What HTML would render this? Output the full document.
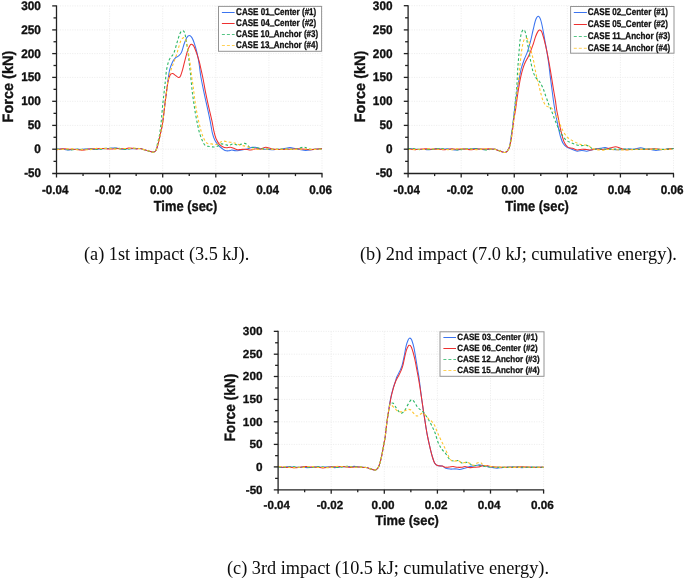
<!DOCTYPE html>
<html lang="en"><head><meta charset="utf-8"><title>Impact force time histories</title>
<style>
html,body{margin:0;padding:0;background:#fff;}
body{width:685px;height:579px;overflow:hidden;position:relative;font-family:"Liberation Serif",serif;}
svg{position:absolute;left:0;top:0;will-change:transform;filter:blur(0.35px);}
.cap{position:absolute;font-family:"Liberation Serif",serif;font-size:18.25px;line-height:20px;color:#0c0c0c;white-space:nowrap;will-change:transform;}
</style></head><body>
<svg width="685" height="579" viewBox="0 0 685 579">
<!-- (a) -->
<g stroke="#e8e8e8" stroke-width="0.8" stroke-dasharray="1.1 1.35" fill="none"><line x1="57.5" y1="5.90" x2="322.0" y2="5.90"/><line x1="57.5" y1="29.90" x2="322.0" y2="29.90"/><line x1="57.5" y1="53.60" x2="322.0" y2="53.60"/><line x1="57.5" y1="77.40" x2="322.0" y2="77.40"/><line x1="57.5" y1="101.30" x2="322.0" y2="101.30"/><line x1="57.5" y1="125.40" x2="322.0" y2="125.40"/><line x1="57.5" y1="149.20" x2="322.0" y2="149.20"/><line x1="109.60" y1="5.9" x2="109.60" y2="172.5"/><line x1="162.70" y1="5.9" x2="162.70" y2="172.5"/><line x1="215.80" y1="5.9" x2="215.80" y2="172.5"/><line x1="268.90" y1="5.9" x2="268.90" y2="172.5"/><line x1="322.00" y1="5.9" x2="322.00" y2="172.5"/></g>
<path d="M56.6,149.1C57.3,149.1 59.3,149.0 60.6,149.0C61.9,149.1 63.3,149.4 64.6,149.6C65.9,149.7 67.3,149.9 68.6,149.9C69.9,149.9 71.3,149.5 72.6,149.4C73.9,149.3 75.3,149.2 76.6,149.2C77.9,149.2 79.3,149.5 80.6,149.5C81.9,149.5 83.3,149.2 84.6,149.1C85.9,149.0 87.3,148.9 88.6,148.9C89.9,149.0 91.3,149.4 92.6,149.5C93.9,149.6 95.3,149.6 96.6,149.5C97.9,149.4 99.3,149.0 100.6,148.8C101.9,148.7 103.3,148.7 104.6,148.6C105.9,148.6 107.3,148.6 108.6,148.5C109.9,148.4 111.3,148.0 112.6,147.9C113.9,147.9 115.3,148.0 116.6,148.1C117.9,148.3 119.3,148.8 120.6,149.0C121.9,149.2 123.3,149.2 124.6,149.1C125.9,149.1 127.3,148.8 128.6,148.8C129.9,148.7 131.3,148.9 132.6,148.8C133.9,148.8 135.4,148.6 136.6,148.6C137.8,148.5 138.6,148.4 140.0,148.6C141.4,148.8 143.7,149.6 145.3,150.0C146.9,150.4 148.3,150.9 149.6,151.3C150.9,151.7 152.1,152.2 153.1,152.2C154.1,152.1 155.1,151.8 155.8,150.8C156.5,149.8 156.9,148.0 157.5,146.0C158.1,144.0 158.7,141.5 159.3,139.0C159.9,136.5 160.5,133.4 161.0,131.1C161.5,128.8 161.9,127.5 162.3,125.0C162.7,122.5 163.0,120.4 163.5,116.4C164.0,112.4 164.7,105.7 165.3,100.9C165.9,96.1 166.7,90.9 167.1,87.4C167.5,83.9 167.6,83.0 168.0,80.0C168.4,77.0 169.0,72.6 169.7,69.7C170.4,66.8 171.4,64.5 172.3,62.5C173.2,60.5 174.3,58.9 175.4,57.8C176.5,56.7 178.0,56.7 179.0,55.7C180.0,54.8 180.7,54.1 181.6,52.1C182.5,50.1 183.3,46.2 184.2,43.8C185.1,41.4 186.0,39.0 186.8,37.6C187.7,36.2 188.5,35.5 189.3,35.5C190.2,35.5 191.0,36.2 191.9,37.6C192.8,39.0 193.6,41.2 194.5,43.8C195.4,46.4 196.3,49.6 197.1,53.1C197.9,56.6 198.6,60.5 199.2,64.5C199.8,68.5 200.1,72.5 200.9,77.0C201.7,81.5 202.8,86.8 203.8,91.6C204.8,96.4 205.9,101.3 207.0,106.1C208.1,110.9 209.2,116.1 210.1,120.6C211.0,125.1 211.6,129.9 212.4,133.2C213.2,136.5 214.0,138.4 214.9,140.3C215.8,142.2 216.8,143.5 218.0,144.9C219.2,146.3 220.9,147.6 222.1,148.5C223.3,149.4 224.0,150.1 225.1,150.5C226.2,150.9 227.6,150.9 228.7,150.8C229.8,150.7 230.6,150.0 231.8,150.0C233.0,150.0 234.5,150.8 235.9,150.8C237.3,150.9 238.7,150.5 240.0,150.3C241.3,150.1 242.7,149.8 244.0,149.5C245.3,149.2 246.7,149.1 248.1,148.7C249.5,148.3 251.0,147.5 252.2,147.3C253.4,147.1 254.3,147.1 255.3,147.3C256.3,147.5 257.2,148.0 258.4,148.3C259.6,148.6 261.0,149.1 262.4,149.3C263.8,149.5 264.9,149.2 267.0,149.3C269.1,149.4 272.3,149.7 275.0,149.6C277.7,149.5 280.5,149.1 283.0,148.8C285.5,148.5 287.8,147.6 290.0,147.6C292.2,147.6 293.4,148.3 296.0,148.8C298.6,149.3 302.6,150.3 305.4,150.4C308.2,150.5 310.2,149.8 313.0,149.6C315.8,149.4 320.5,149.1 322.0,149.0" fill="none" stroke="#3b74f0" stroke-width="1.05" stroke-linejoin="round"/>
<path d="M56.6,149.7C57.3,149.6 59.3,149.2 60.6,149.0C61.9,148.9 63.3,148.7 64.6,148.7C65.9,148.7 67.3,149.1 68.6,149.2C69.9,149.3 71.3,149.3 72.6,149.3C73.9,149.3 75.3,149.3 76.6,149.4C77.9,149.5 79.3,150.0 80.6,150.1C81.9,150.2 83.3,150.1 84.6,150.0C85.9,149.8 87.3,149.3 88.6,149.1C89.9,148.9 91.3,148.8 92.6,148.8C93.9,148.8 95.3,148.9 96.6,148.8C97.9,148.8 99.3,148.5 100.6,148.4C101.9,148.4 103.3,148.4 104.6,148.5C105.9,148.6 107.3,148.9 108.6,149.0C109.9,149.1 111.3,149.0 112.6,148.9C113.9,148.8 115.3,148.5 116.6,148.5C117.9,148.5 119.3,148.6 120.6,148.7C121.9,148.7 123.3,148.8 124.6,148.7C125.9,148.6 127.3,148.2 128.6,148.1C129.9,148.1 131.3,148.2 132.6,148.3C133.9,148.5 135.4,149.0 136.6,149.0C137.8,149.0 138.6,148.4 140.0,148.6C141.4,148.8 143.7,149.6 145.3,150.0C146.9,150.4 148.3,150.9 149.6,151.3C150.9,151.7 152.1,152.2 153.1,152.2C154.1,152.1 155.1,151.8 155.8,150.8C156.5,149.8 156.9,148.0 157.5,146.0C158.1,144.0 158.7,141.5 159.3,139.0C159.9,136.5 160.5,133.4 161.0,131.1C161.5,128.8 161.9,127.5 162.3,125.0C162.7,122.5 163.0,120.4 163.5,116.4C164.0,112.4 164.7,105.7 165.3,100.9C165.9,96.1 166.6,90.9 167.1,87.4C167.6,83.9 167.9,82.1 168.4,80.0C168.9,77.9 169.5,76.0 170.2,74.9C170.9,73.8 171.7,73.4 172.6,73.5C173.5,73.6 174.4,74.7 175.4,75.4C176.4,76.1 177.7,77.4 178.5,77.5C179.3,77.6 179.8,77.2 180.5,75.9C181.2,74.6 181.8,72.5 182.6,69.7C183.4,66.9 184.3,62.6 185.2,59.3C186.1,56.0 187.0,52.3 187.8,50.0C188.6,47.7 189.3,46.4 189.9,45.4C190.5,44.4 190.9,44.1 191.6,44.3C192.3,44.5 193.2,44.9 194.0,46.4C194.8,47.9 195.7,50.6 196.6,53.1C197.5,55.6 198.4,58.5 199.2,61.4C200.0,64.3 200.6,67.6 201.3,70.7C202.0,73.8 202.6,76.5 203.3,80.0C204.0,83.5 204.5,87.2 205.4,91.6C206.3,95.9 207.4,101.3 208.5,106.1C209.6,110.9 211.0,116.4 211.9,120.6C212.8,124.8 213.2,128.1 213.9,131.1C214.6,134.1 215.1,136.2 215.9,138.3C216.8,140.4 217.9,142.5 219.0,143.9C220.1,145.3 221.4,146.1 222.6,146.7C223.8,147.3 224.9,147.6 226.2,147.7C227.5,147.8 229.0,147.2 230.3,147.3C231.6,147.4 232.6,147.9 233.8,148.3C235.0,148.7 236.2,149.5 237.4,149.7C238.6,149.9 239.7,149.6 241.0,149.5C242.3,149.4 243.7,149.1 245.1,149.2C246.5,149.3 247.8,149.9 249.2,150.0C250.5,150.1 252.0,149.7 253.2,149.5C254.4,149.3 255.1,148.8 256.3,148.7C257.5,148.6 258.8,149.2 260.4,149.0C262.0,148.8 264.0,147.3 265.9,147.3C267.8,147.3 269.6,148.6 272.0,149.0C274.4,149.4 277.0,149.5 280.0,149.5C283.0,149.5 286.7,149.3 290.0,149.2C293.3,149.1 296.7,148.7 300.0,148.8C303.3,148.9 306.3,149.6 310.0,149.6C313.7,149.6 320.0,148.8 322.0,148.6" fill="none" stroke="#ee3030" stroke-width="1.05" stroke-linejoin="round"/>
<path d="M56.6,149.1C57.3,149.2 59.3,149.4 60.6,149.5C61.9,149.5 63.3,149.3 64.6,149.3C65.9,149.4 67.3,149.6 68.6,149.7C69.9,149.7 71.3,149.9 72.6,149.8C73.9,149.7 75.3,149.3 76.6,149.2C77.9,149.1 79.3,149.0 80.6,149.1C81.9,149.1 83.3,149.3 84.6,149.4C85.9,149.4 87.3,149.2 88.6,149.2C89.9,149.1 91.3,149.0 92.6,149.1C93.9,149.1 95.3,149.4 96.6,149.5C97.9,149.5 99.3,149.4 100.6,149.2C101.9,149.1 103.3,148.6 104.6,148.4C105.9,148.2 107.3,148.2 108.6,148.2C109.9,148.2 111.3,148.3 112.6,148.3C113.9,148.3 115.3,148.1 116.6,148.2C117.9,148.2 119.3,148.4 120.6,148.6C121.9,148.8 123.3,149.3 124.6,149.4C125.9,149.4 127.3,149.2 128.6,149.1C129.9,148.9 131.3,148.5 132.6,148.4C133.9,148.3 135.4,148.5 136.6,148.5C137.8,148.6 138.6,148.4 140.0,148.6C141.4,148.8 143.7,149.6 145.3,150.0C146.9,150.4 148.3,150.9 149.6,151.3C150.9,151.7 152.1,152.2 153.1,152.2C154.1,152.1 155.2,151.8 155.8,150.8C156.4,149.8 156.4,148.0 156.9,146.0C157.4,144.0 158.1,141.2 158.6,139.0C159.1,136.8 159.4,135.9 159.8,133.0C160.2,130.1 160.7,126.6 161.2,121.6C161.7,116.6 162.3,108.5 162.9,103.0C163.5,97.5 164.1,92.3 164.5,88.5C164.9,84.7 165.2,83.1 165.5,80.0C165.8,76.9 166.0,73.0 166.6,69.7C167.2,66.4 168.0,62.7 169.2,59.9C170.4,57.1 172.5,56.0 173.8,53.1C175.1,50.2 176.1,45.6 177.1,42.3C178.1,39.0 179.1,35.4 180.0,33.5C180.9,31.6 181.8,30.8 182.6,30.7C183.4,30.6 184.1,31.2 184.7,32.9C185.3,34.6 185.7,37.7 186.2,40.7C186.7,43.7 187.3,47.7 187.8,51.1C188.3,54.5 188.7,57.8 189.1,61.4C189.5,65.0 189.9,68.5 190.4,73.0C190.9,77.5 191.4,83.8 191.9,88.5C192.4,93.2 192.9,96.8 193.5,100.9C194.1,105.0 194.7,109.3 195.4,113.3C196.1,117.3 196.9,121.4 197.6,124.7C198.3,128.0 198.8,130.6 199.6,133.2C200.4,135.8 201.3,138.3 202.2,140.3C203.1,142.3 204.0,144.4 205.2,145.4C206.4,146.4 207.8,146.2 209.3,146.5C210.8,146.8 213.0,147.1 214.4,147.0C215.8,146.9 216.9,146.4 218.0,145.9C219.1,145.4 220.0,144.2 221.1,143.9C222.2,143.7 223.3,144.2 224.6,144.4C225.9,144.7 227.3,145.5 228.7,145.4C230.1,145.3 231.4,144.0 232.8,143.9C234.2,143.8 235.6,144.8 236.9,144.9C238.2,145.0 239.2,144.7 240.5,144.4C241.8,144.2 243.4,143.3 244.6,143.4C245.8,143.5 246.8,144.2 247.6,144.9C248.4,145.6 248.8,147.1 249.7,147.5C250.6,147.9 251.8,147.4 253.2,147.5C254.6,147.6 256.4,147.8 258.4,148.0C260.4,148.2 262.2,148.8 265.0,149.0C267.8,149.2 271.7,149.2 275.0,149.2C278.3,149.2 281.7,149.0 285.0,149.0C288.3,149.0 291.9,149.6 295.0,149.3C298.1,149.0 301.2,147.2 303.7,147.2C306.2,147.2 306.9,148.9 310.0,149.2C313.1,149.5 320.0,149.0 322.0,149.0" fill="none" stroke="#2cb766" stroke-width="1.1" stroke-dasharray="2.6 2.2" stroke-linejoin="round"/>
<path d="M56.6,149.3C57.3,149.3 59.3,149.5 60.6,149.5C61.9,149.5 63.3,149.5 64.6,149.4C65.9,149.3 67.3,148.8 68.6,148.7C69.9,148.7 71.3,148.8 72.6,148.9C73.9,149.1 75.3,149.5 76.6,149.6C77.9,149.7 79.3,149.7 80.6,149.7C81.9,149.7 83.3,149.6 84.6,149.6C85.9,149.6 87.3,149.9 88.6,149.8C89.9,149.7 91.3,149.5 92.6,149.3C93.9,149.0 95.3,148.6 96.6,148.4C97.9,148.3 99.3,148.4 100.6,148.5C101.9,148.5 103.3,148.6 104.6,148.6C105.9,148.6 107.3,148.3 108.6,148.3C109.9,148.3 111.3,148.5 112.6,148.6C113.9,148.8 115.3,149.2 116.6,149.2C117.9,149.2 119.3,148.9 120.6,148.8C121.9,148.7 123.3,148.5 124.6,148.5C125.9,148.4 127.3,148.6 128.6,148.5C129.9,148.5 131.3,148.4 132.6,148.3C133.9,148.2 135.4,148.1 136.6,148.1C137.8,148.2 138.6,148.3 140.0,148.6C141.4,148.9 143.7,149.6 145.3,150.0C146.9,150.4 148.3,150.9 149.6,151.3C150.9,151.7 152.1,152.2 153.1,152.2C154.1,152.1 155.1,151.8 155.8,150.8C156.5,149.8 156.9,148.0 157.5,146.0C158.1,144.0 158.7,141.5 159.3,139.0C159.9,136.5 160.5,133.4 161.0,131.1C161.5,128.8 161.9,127.5 162.3,125.0C162.7,122.5 163.0,120.4 163.5,116.4C164.0,112.4 164.7,105.7 165.3,100.9C165.9,96.1 166.6,90.9 167.1,87.4C167.6,83.9 167.5,82.8 168.1,80.0C168.7,77.2 169.8,73.5 170.7,70.7C171.6,68.0 172.4,66.1 173.3,63.5C174.2,60.9 175.5,57.8 176.4,55.2C177.3,52.6 177.7,50.5 178.5,48.0C179.3,45.5 180.2,41.9 181.1,40.2C182.0,38.5 182.9,37.7 183.7,37.6C184.5,37.5 185.1,38.2 185.7,39.7C186.3,41.2 187.0,44.3 187.5,46.9C188.0,49.5 188.3,52.1 188.8,55.2C189.3,58.3 189.9,62.0 190.4,65.6C190.9,69.2 191.2,73.4 191.7,77.0C192.2,80.6 192.8,83.8 193.3,87.4C193.8,91.0 194.1,94.8 194.7,98.8C195.2,102.8 195.9,107.2 196.6,111.2C197.3,115.2 198.2,119.3 198.9,122.6C199.7,125.9 200.3,128.5 201.1,131.1C201.9,133.7 202.7,136.2 203.7,138.3C204.7,140.4 206.0,142.5 207.3,143.4C208.6,144.3 209.8,143.7 211.3,143.9C212.8,144.1 215.1,144.7 216.5,144.4C217.9,144.2 218.8,143.0 220.0,142.4C221.2,141.8 222.3,141.2 223.6,141.1C224.9,141.0 226.2,141.7 227.7,141.9C229.2,142.2 231.4,142.3 232.8,142.6C234.2,142.8 234.7,143.0 235.9,143.4C237.1,143.8 238.7,144.8 240.0,145.2C241.3,145.6 242.7,145.6 244.0,145.9C245.3,146.2 246.7,146.5 248.1,147.0C249.5,147.5 250.8,148.6 252.2,149.0C253.6,149.4 254.8,149.2 256.3,149.3C257.8,149.4 259.9,149.6 261.4,149.5C262.8,149.4 262.7,149.0 265.0,149.0C267.3,149.0 271.7,149.4 275.0,149.4C278.3,149.4 281.7,149.1 285.0,149.1C288.3,149.1 291.7,149.4 295.0,149.4C298.3,149.4 301.7,149.0 305.0,149.0C308.3,149.0 312.2,149.5 315.0,149.5C317.8,149.5 320.8,149.2 322.0,149.2" fill="none" stroke="#ffc52e" stroke-width="1.1" stroke-dasharray="2.6 2.2" stroke-linejoin="round"/>
<g stroke="#222" stroke-width="1.3" fill="none"><line x1="56.50" y1="5.40" x2="56.50" y2="174.00"/><line x1="52.20" y1="173.50" x2="322.50" y2="173.50"/><line x1="52.20" y1="5.90" x2="56.50" y2="5.90"/><line x1="53.50" y1="17.90" x2="56.50" y2="17.90"/><line x1="52.20" y1="29.90" x2="56.50" y2="29.90"/><line x1="53.50" y1="41.75" x2="56.50" y2="41.75"/><line x1="52.20" y1="53.60" x2="56.50" y2="53.60"/><line x1="53.50" y1="65.50" x2="56.50" y2="65.50"/><line x1="52.20" y1="77.40" x2="56.50" y2="77.40"/><line x1="53.50" y1="89.35" x2="56.50" y2="89.35"/><line x1="52.20" y1="101.30" x2="56.50" y2="101.30"/><line x1="53.50" y1="113.35" x2="56.50" y2="113.35"/><line x1="52.20" y1="125.40" x2="56.50" y2="125.40"/><line x1="53.50" y1="137.30" x2="56.50" y2="137.30"/><line x1="52.20" y1="149.20" x2="56.50" y2="149.20"/><line x1="53.50" y1="161.35" x2="56.50" y2="161.35"/><line x1="56.50" y1="173.50" x2="56.50" y2="177.50"/><line x1="83.05" y1="173.50" x2="83.05" y2="176.10"/><line x1="109.60" y1="173.50" x2="109.60" y2="177.50"/><line x1="136.15" y1="173.50" x2="136.15" y2="176.10"/><line x1="162.70" y1="173.50" x2="162.70" y2="177.50"/><line x1="189.25" y1="173.50" x2="189.25" y2="176.10"/><line x1="215.80" y1="173.50" x2="215.80" y2="177.50"/><line x1="242.35" y1="173.50" x2="242.35" y2="176.10"/><line x1="268.90" y1="173.50" x2="268.90" y2="177.50"/><line x1="295.45" y1="173.50" x2="295.45" y2="176.10"/><line x1="322.00" y1="173.50" x2="322.00" y2="177.50"/></g>
<g font-family="Liberation Sans, sans-serif" font-weight="700" fill="#111" stroke="#111" stroke-width="0.35" stroke-linejoin="round" text-rendering="geometricPrecision"><text transform="translate(40.90,9.80) scale(1,0.998)" text-anchor="end" font-size="12.4" textLength="19.68" lengthAdjust="spacingAndGlyphs">300</text><text transform="translate(40.90,33.80) scale(1,0.998)" text-anchor="end" font-size="12.4" textLength="19.68" lengthAdjust="spacingAndGlyphs">250</text><text transform="translate(40.90,57.50) scale(1,0.998)" text-anchor="end" font-size="12.4" textLength="19.68" lengthAdjust="spacingAndGlyphs">200</text><text transform="translate(40.90,81.30) scale(1,0.998)" text-anchor="end" font-size="12.4" textLength="19.68" lengthAdjust="spacingAndGlyphs">150</text><text transform="translate(40.90,105.20) scale(1,0.998)" text-anchor="end" font-size="12.4" textLength="19.68" lengthAdjust="spacingAndGlyphs">100</text><text transform="translate(40.90,129.30) scale(1,0.998)" text-anchor="end" font-size="12.4" textLength="13.12" lengthAdjust="spacingAndGlyphs">50</text><text transform="translate(40.90,153.10) scale(1,0.998)" text-anchor="end" font-size="12.4" textLength="6.56" lengthAdjust="spacingAndGlyphs">0</text><text transform="translate(40.90,177.40) scale(1,0.998)" text-anchor="end" font-size="12.4" textLength="16.72" lengthAdjust="spacingAndGlyphs">-50</text><text transform="translate(55.20,193.90) scale(1,0.998)" text-anchor="middle" font-size="12.4" textLength="26.38" lengthAdjust="spacingAndGlyphs">-0.04</text><text transform="translate(108.30,193.90) scale(1,0.998)" text-anchor="middle" font-size="12.4" textLength="26.38" lengthAdjust="spacingAndGlyphs">-0.02</text><text transform="translate(161.40,193.90) scale(1,0.998)" text-anchor="middle" font-size="12.4" textLength="22.78" lengthAdjust="spacingAndGlyphs">0.00</text><text transform="translate(214.50,193.90) scale(1,0.998)" text-anchor="middle" font-size="12.4" textLength="22.78" lengthAdjust="spacingAndGlyphs">0.02</text><text transform="translate(267.60,193.90) scale(1,0.998)" text-anchor="middle" font-size="12.4" textLength="22.78" lengthAdjust="spacingAndGlyphs">0.04</text><text transform="translate(320.70,193.90) scale(1,0.998)" text-anchor="middle" font-size="12.4" textLength="22.78" lengthAdjust="spacingAndGlyphs">0.06</text><text transform="translate(185.50,211.30) scale(1,0.998)" text-anchor="middle" font-size="14.5" textLength="63.60" lengthAdjust="spacingAndGlyphs">Time (sec)</text><text transform="translate(13.20,86.60) rotate(-90) scale(0.998,1)" text-anchor="middle" font-size="15.0" textLength="71.80" lengthAdjust="spacingAndGlyphs">Force (kN)</text></g>
<rect x="218.50" y="6.40" width="103.10" height="44.90" fill="#fff" fill-opacity="0.996" stroke="#949494" stroke-width="1"/>
<line x1="221.90" y1="12.50" x2="234.60" y2="12.50" stroke="#3b74f0" stroke-width="1.0"/>
<line x1="221.90" y1="23.50" x2="234.60" y2="23.50" stroke="#ee3030" stroke-width="1.0"/>
<line x1="221.90" y1="34.50" x2="234.60" y2="34.50" stroke="#2cb766" stroke-width="1.0" stroke-dasharray="3.0 2.0" stroke-opacity="0.8"/>
<line x1="221.90" y1="45.50" x2="234.60" y2="45.50" stroke="#ffc52e" stroke-width="1.0" stroke-dasharray="3.0 2.0" stroke-opacity="0.8"/>
<g font-family="Liberation Sans, sans-serif" font-weight="700" fill="#111" stroke="#111" stroke-width="0.3" stroke-linejoin="round" text-rendering="geometricPrecision"><text transform="translate(236.10,15.10) scale(1,0.998)" text-anchor="start" font-size="9.7" textLength="80.20" lengthAdjust="spacingAndGlyphs">CASE 01<tspan dy="-1.3" stroke-width="0.6">_</tspan><tspan dy="1.3">Center (#1)</tspan></text><text transform="translate(236.10,26.00) scale(1,0.998)" text-anchor="start" font-size="9.7" textLength="80.20" lengthAdjust="spacingAndGlyphs">CASE 04<tspan dy="-1.3" stroke-width="0.6">_</tspan><tspan dy="1.3">Center (#2)</tspan></text><text transform="translate(236.10,37.10) scale(1,0.998)" text-anchor="start" font-size="9.7" textLength="82.00" lengthAdjust="spacingAndGlyphs">CASE 10<tspan dy="-1.3" stroke-width="0.6">_</tspan><tspan dy="1.3">Anchor (#3)</tspan></text><text transform="translate(236.10,48.10) scale(1,0.998)" text-anchor="start" font-size="9.7" textLength="82.00" lengthAdjust="spacingAndGlyphs">CASE 13<tspan dy="-1.3" stroke-width="0.6">_</tspan><tspan dy="1.3">Anchor (#4)</tspan></text></g>
<!-- (b) -->
<g stroke="#e8e8e8" stroke-width="0.8" stroke-dasharray="1.1 1.35" fill="none"><line x1="409.1" y1="5.70" x2="673.5" y2="5.70"/><line x1="409.1" y1="29.90" x2="673.5" y2="29.90"/><line x1="409.1" y1="53.60" x2="673.5" y2="53.60"/><line x1="409.1" y1="77.40" x2="673.5" y2="77.40"/><line x1="409.1" y1="101.30" x2="673.5" y2="101.30"/><line x1="409.1" y1="125.40" x2="673.5" y2="125.40"/><line x1="409.1" y1="149.20" x2="673.5" y2="149.20"/><line x1="461.18" y1="5.7" x2="461.18" y2="172.5"/><line x1="514.26" y1="5.7" x2="514.26" y2="172.5"/><line x1="567.34" y1="5.7" x2="567.34" y2="172.5"/><line x1="620.42" y1="5.7" x2="620.42" y2="172.5"/><line x1="673.50" y1="5.7" x2="673.50" y2="172.5"/></g>
<path d="M408.0,148.5C408.7,148.5 410.7,148.5 412.0,148.7C413.3,148.8 414.7,149.1 416.0,149.2C417.3,149.3 418.7,149.1 420.0,149.2C421.3,149.2 422.7,149.3 424.0,149.4C425.3,149.5 426.7,149.9 428.0,149.8C429.3,149.8 430.7,149.5 432.0,149.3C433.3,149.1 434.7,148.7 436.0,148.6C437.3,148.5 438.7,148.7 440.0,148.8C441.3,148.8 442.7,149.0 444.0,149.0C445.3,149.0 446.7,148.8 448.0,148.9C449.3,149.0 450.7,149.3 452.0,149.5C453.3,149.7 454.7,150.0 456.0,150.0C457.3,150.0 458.7,149.6 460.0,149.4C461.3,149.2 462.7,149.0 464.0,148.9C465.3,148.9 466.7,149.0 468.0,149.0C469.3,149.0 470.7,148.8 472.0,148.7C473.3,148.6 474.7,148.5 476.0,148.6C477.3,148.7 478.7,149.2 480.0,149.3C481.3,149.5 482.7,149.7 484.0,149.7C485.3,149.7 486.7,149.4 488.0,149.4C489.3,149.3 490.8,149.3 492.0,149.3C493.2,149.3 493.6,149.0 495.0,149.3C496.4,149.6 498.5,150.6 500.2,151.1C501.9,151.6 503.9,152.8 505.3,152.4C506.8,152.0 508.0,150.4 508.9,148.5C509.8,146.6 510.0,144.1 510.5,141.2C511.0,138.3 511.5,134.3 512.0,130.9C512.5,127.5 512.9,124.0 513.3,120.5C513.7,117.0 514.0,113.6 514.5,110.0C515.0,106.4 515.5,102.5 516.0,98.7C516.6,94.9 517.1,90.6 517.6,87.3C518.1,84.0 518.6,82.1 519.2,79.0C519.8,75.9 520.4,71.9 521.2,68.6C522.1,65.3 523.3,62.1 524.3,59.3C525.3,56.5 526.4,54.8 527.4,51.8C528.4,48.8 529.5,45.0 530.5,41.4C531.5,37.8 532.2,33.6 533.1,30.0C534.0,26.4 534.8,22.0 535.7,19.7C536.6,17.4 537.5,16.3 538.3,16.3C539.1,16.3 539.8,17.4 540.6,19.7C541.4,22.0 542.3,26.4 543.0,30.0C543.7,33.6 544.4,38.1 545.0,41.4C545.6,44.7 546.0,46.3 546.6,50.0C547.2,53.7 548.1,59.2 548.7,63.5C549.3,67.8 549.7,71.8 550.2,75.9C550.7,80.0 551.3,84.3 551.8,88.3C552.3,92.3 552.8,96.1 553.3,99.7C553.8,103.3 554.4,107.1 554.9,110.0C555.4,112.9 555.7,114.4 556.2,117.0C556.7,119.6 557.2,122.3 557.9,125.5C558.6,128.7 559.4,133.0 560.3,136.0C561.2,139.0 562.1,141.8 563.2,143.6C564.3,145.4 565.2,146.1 566.7,147.1C568.2,148.1 570.8,148.8 572.5,149.5C574.2,150.2 575.6,151.0 577.2,151.2C578.8,151.3 580.4,150.4 581.9,150.4C583.4,150.4 585.0,151.3 586.5,151.2C588.0,151.1 589.6,150.4 591.2,150.0C592.8,149.6 594.4,149.2 595.9,148.9C597.4,148.6 599.0,148.5 600.5,148.3C602.0,148.1 603.6,147.4 605.2,147.5C606.8,147.6 608.1,148.5 609.9,148.9C611.6,149.3 613.8,149.7 615.7,149.8C617.7,149.9 619.5,149.8 621.6,149.6C623.8,149.4 626.5,148.9 628.6,148.9C630.7,148.9 632.0,149.5 634.0,149.3C636.0,149.1 638.5,147.8 640.5,147.7C642.5,147.6 644.2,148.7 646.0,149.0C647.8,149.3 649.3,149.4 651.0,149.6C652.7,149.8 654.2,150.4 656.0,150.4C657.8,150.4 660.0,149.8 662.0,149.6C664.0,149.4 666.1,149.2 668.0,149.0C669.9,148.8 672.6,148.5 673.5,148.4" fill="none" stroke="#3b74f0" stroke-width="1.05" stroke-linejoin="round"/>
<path d="M408.0,149.2C408.7,149.2 410.7,149.2 412.0,149.2C413.3,149.3 414.7,149.6 416.0,149.6C417.3,149.5 418.7,149.3 420.0,149.2C421.3,149.0 422.7,148.7 424.0,148.7C425.3,148.6 426.7,148.9 428.0,149.0C429.3,149.1 430.7,149.3 432.0,149.3C433.3,149.3 434.7,149.1 436.0,149.1C437.3,149.1 438.7,149.2 440.0,149.3C441.3,149.4 442.7,149.7 444.0,149.7C445.3,149.7 446.7,149.3 448.0,149.2C449.3,149.0 450.7,148.8 452.0,148.8C453.3,148.8 454.7,149.2 456.0,149.2C457.3,149.3 458.7,149.2 460.0,149.1C461.3,149.1 462.7,148.9 464.0,148.9C465.3,149.0 466.7,149.3 468.0,149.4C469.3,149.6 470.7,149.7 472.0,149.6C473.3,149.6 474.7,149.2 476.0,149.0C477.3,148.9 478.7,148.9 480.0,148.9C481.3,148.9 482.7,149.1 484.0,149.1C485.3,149.1 486.7,148.9 488.0,148.8C489.3,148.8 490.8,148.9 492.0,148.9C493.2,149.0 493.6,148.9 495.0,149.3C496.4,149.7 498.5,150.6 500.2,151.1C501.9,151.6 503.9,152.8 505.3,152.4C506.8,152.0 508.0,150.4 508.9,148.5C509.8,146.6 510.3,144.1 510.9,141.2C511.5,138.3 511.9,134.3 512.4,130.9C512.9,127.5 513.2,124.0 513.7,120.5C514.2,117.0 515.0,113.1 515.5,110.0C516.0,106.9 516.2,104.5 516.6,101.8C517.0,99.0 517.3,96.8 517.8,93.5C518.3,90.2 519.1,85.5 519.7,82.1C520.4,78.6 520.9,75.7 521.7,72.8C522.5,69.9 523.2,67.1 524.3,64.5C525.3,61.9 527.0,59.2 528.0,57.2C529.0,55.2 529.1,54.9 530.0,52.8C530.9,50.7 532.1,47.3 533.1,44.5C534.1,41.7 534.8,38.5 535.7,36.2C536.6,33.9 537.6,31.9 538.3,30.9C539.0,29.9 539.3,29.9 539.9,30.0C540.5,30.1 541.0,30.4 541.6,31.6C542.2,32.8 542.8,35.0 543.5,37.3C544.2,39.6 545.0,42.9 545.6,45.6C546.2,48.4 546.8,50.8 547.4,53.8C548.0,56.8 548.6,59.8 549.2,63.5C549.9,67.2 550.6,71.8 551.3,75.9C552.0,80.0 552.6,84.2 553.3,88.3C554.0,92.4 554.8,97.1 555.4,100.7C556.0,104.3 556.2,107.2 556.7,110.0C557.2,112.8 557.6,114.4 558.2,117.4C558.8,120.4 559.4,124.3 560.2,127.8C561.0,131.2 562.1,135.6 562.8,138.1C563.5,140.6 563.8,141.5 564.6,143.0C565.4,144.5 566.5,146.2 567.8,147.1C569.1,148.0 570.9,147.8 572.5,148.3C574.1,148.8 575.6,149.8 577.2,150.0C578.8,150.2 580.4,149.3 581.9,149.2C583.4,149.1 585.0,149.4 586.5,149.5C588.0,149.6 589.6,150.1 591.2,150.0C592.8,149.9 594.1,149.2 595.9,149.1C597.6,149.0 600.0,149.5 601.7,149.5C603.5,149.5 604.8,149.4 606.4,149.1C608.0,148.8 609.5,148.1 611.1,147.7C612.7,147.3 614.2,146.8 615.7,146.8C617.2,146.8 618.2,147.4 619.8,147.9C621.4,148.4 622.6,149.5 625.1,149.7C627.6,149.9 631.7,149.2 635.0,149.2C638.3,149.1 641.7,149.5 645.0,149.4C648.3,149.3 651.7,148.8 655.0,148.8C658.3,148.8 661.9,149.6 665.0,149.5C668.1,149.4 672.1,148.6 673.5,148.4" fill="none" stroke="#ee3030" stroke-width="1.05" stroke-linejoin="round"/>
<path d="M408.0,148.9C408.7,148.8 410.7,148.4 412.0,148.4C413.3,148.4 414.7,148.7 416.0,148.9C417.3,149.1 418.7,149.5 420.0,149.6C421.3,149.7 422.7,149.5 424.0,149.5C425.3,149.5 426.7,149.4 428.0,149.4C429.3,149.4 430.7,149.6 432.0,149.5C433.3,149.5 434.7,149.1 436.0,148.9C437.3,148.7 438.7,148.4 440.0,148.4C441.3,148.4 442.7,148.8 444.0,148.9C445.3,149.1 446.7,149.3 448.0,149.3C449.3,149.4 450.7,149.3 452.0,149.3C453.3,149.4 454.7,149.6 456.0,149.7C457.3,149.8 458.7,149.9 460.0,149.8C461.3,149.7 462.7,149.2 464.0,149.0C465.3,148.8 466.7,148.6 468.0,148.6C469.3,148.5 470.7,148.8 472.0,148.9C473.3,149.0 474.7,148.9 476.0,148.9C477.3,148.9 478.7,148.8 480.0,149.0C481.3,149.1 482.7,149.5 484.0,149.6C485.3,149.8 486.7,149.9 488.0,149.8C489.3,149.7 490.8,149.2 492.0,149.2C493.2,149.1 493.6,149.0 495.0,149.3C496.4,149.6 498.5,150.6 500.2,151.1C501.9,151.6 503.9,152.8 505.3,152.4C506.8,152.0 508.0,150.4 508.9,148.5C509.8,146.6 510.1,144.1 510.6,141.2C511.1,138.3 511.6,134.3 512.1,130.9C512.6,127.5 513.0,124.0 513.4,120.5C513.8,117.0 514.3,113.1 514.6,110.0C514.9,106.9 515.0,104.9 515.3,101.8C515.6,98.7 516.1,94.9 516.4,91.4C516.7,88.0 516.9,84.5 517.1,81.1C517.3,77.6 517.4,74.2 517.6,70.7C517.8,67.2 518.1,63.9 518.4,60.4C518.7,56.9 518.9,53.2 519.2,49.7C519.5,46.2 519.8,42.2 520.2,39.3C520.6,36.4 521.1,33.7 521.7,32.1C522.3,30.5 523.3,29.4 524.0,29.8C524.7,30.2 525.4,32.3 525.9,34.2C526.4,36.1 526.7,39.0 527.1,41.4C527.5,43.8 528.1,46.6 528.5,48.7C528.9,50.8 529.1,51.6 529.5,54.1C529.9,56.6 530.5,60.6 531.1,63.5C531.7,66.4 532.3,69.4 533.1,71.7C533.9,74.0 534.6,75.7 535.7,77.4C536.8,79.1 538.7,80.3 539.9,82.1C541.1,83.9 542.0,86.0 543.0,88.3C544.0,90.5 544.7,93.2 545.6,95.6C546.5,98.0 547.5,100.9 548.2,102.8C548.9,104.7 549.2,105.3 549.9,107.1C550.6,108.8 551.6,111.1 552.5,113.3C553.4,115.5 554.1,118.1 555.1,120.5C556.1,122.9 557.1,125.4 558.2,127.8C559.4,130.2 560.7,132.8 562.0,134.9C563.3,137.0 564.7,138.8 566.1,140.1C567.5,141.3 568.7,141.7 570.2,142.4C571.7,143.1 573.2,143.7 574.9,144.2C576.5,144.7 578.2,145.4 580.1,145.6C582.0,145.8 584.9,145.2 586.5,145.4C588.1,145.7 588.8,146.5 590.0,147.1C591.2,147.7 591.9,148.8 593.5,149.1C595.1,149.4 597.2,148.9 599.4,148.9C601.5,148.9 603.0,149.2 606.4,149.2C609.8,149.2 615.2,149.0 620.0,149.0C624.8,149.0 630.0,149.3 635.0,149.3C640.0,149.3 645.5,149.0 650.0,149.0C654.5,149.0 658.1,149.5 662.0,149.4C665.9,149.3 671.6,148.7 673.5,148.6" fill="none" stroke="#2cb766" stroke-width="1.1" stroke-dasharray="2.6 2.2" stroke-linejoin="round"/>
<path d="M408.0,149.1C408.7,149.2 410.7,149.6 412.0,149.6C413.3,149.6 414.7,149.4 416.0,149.3C417.3,149.3 418.7,149.3 420.0,149.3C421.3,149.3 422.7,149.5 424.0,149.4C425.3,149.4 426.7,149.0 428.0,148.8C429.3,148.7 430.7,148.5 432.0,148.6C433.3,148.6 434.7,149.0 436.0,149.2C437.3,149.3 438.7,149.3 440.0,149.3C441.3,149.3 442.7,149.2 444.0,149.2C445.3,149.3 446.7,149.5 448.0,149.6C449.3,149.6 450.7,149.7 452.0,149.6C453.3,149.5 454.7,149.1 456.0,148.9C457.3,148.8 458.7,148.7 460.0,148.8C461.3,148.8 462.7,149.1 464.0,149.2C465.3,149.2 466.7,149.1 468.0,149.1C469.3,149.1 470.7,149.0 472.0,149.1C473.3,149.2 474.7,149.6 476.0,149.6C477.3,149.7 478.7,149.6 480.0,149.4C481.3,149.3 482.7,148.9 484.0,148.8C485.3,148.7 486.7,148.8 488.0,148.9C489.3,149.0 490.8,149.1 492.0,149.2C493.2,149.2 493.6,149.0 495.0,149.3C496.4,149.6 498.5,150.6 500.2,151.1C501.9,151.6 503.9,152.8 505.3,152.4C506.8,152.0 508.0,150.4 508.9,148.5C509.8,146.6 510.3,144.1 510.9,141.2C511.5,138.3 511.9,134.3 512.4,130.9C512.9,127.5 513.3,124.0 513.7,120.5C514.1,117.0 514.6,113.1 515.0,110.0C515.4,106.9 515.7,104.9 516.0,101.8C516.4,98.7 516.7,94.9 517.1,91.4C517.5,88.0 518.0,84.5 518.4,81.1C518.8,77.6 519.1,74.2 519.5,70.7C519.9,67.2 520.2,63.2 520.5,60.4C520.8,57.6 520.9,56.1 521.2,53.8C521.5,51.5 521.9,48.8 522.3,46.6C522.7,44.4 523.3,41.8 523.8,40.4C524.3,39.0 524.7,38.5 525.4,38.3C526.1,38.1 527.3,38.4 528.0,39.3C528.7,40.2 529.0,41.8 529.5,43.5C530.0,45.2 530.5,47.8 530.9,49.7C531.3,51.6 531.6,53.0 532.1,54.9C532.6,56.8 533.2,58.9 533.7,61.4C534.2,63.9 534.7,67.0 535.2,69.7C535.7,72.4 536.2,74.8 536.8,77.4C537.4,80.0 538.1,82.5 538.8,85.2C539.5,87.9 540.1,90.7 540.9,93.5C541.7,96.3 542.5,99.7 543.5,101.8C544.5,103.9 545.4,105.2 546.6,106.2C547.8,107.2 549.7,106.8 550.9,107.6C552.1,108.4 553.0,109.6 554.0,111.2C555.0,112.8 556.1,115.2 557.1,117.4C558.1,119.7 559.4,122.8 560.2,124.7C561.0,126.6 560.9,127.0 562.0,129.0C563.1,131.0 565.0,134.7 566.7,136.6C568.5,138.5 570.5,139.5 572.5,140.7C574.5,141.9 576.6,142.9 578.4,143.6C580.1,144.3 581.5,144.8 583.0,145.1C584.5,145.3 586.3,144.7 587.7,145.1C589.1,145.5 590.0,147.0 591.2,147.7C592.4,148.4 592.8,148.8 594.7,149.2C596.7,149.6 600.8,150.2 602.9,150.3C605.0,150.4 603.9,149.6 607.6,149.5C611.3,149.4 620.5,150.0 625.1,150.0C629.7,150.0 630.9,149.6 635.0,149.5C639.1,149.4 645.5,149.2 650.0,149.2C654.5,149.2 658.1,149.6 662.0,149.6C665.9,149.6 671.6,149.3 673.5,149.2" fill="none" stroke="#ffc52e" stroke-width="1.1" stroke-dasharray="2.6 2.2" stroke-linejoin="round"/>
<g stroke="#222" stroke-width="1.3" fill="none"><line x1="408.10" y1="5.20" x2="408.10" y2="174.00"/><line x1="403.80" y1="173.50" x2="674.00" y2="173.50"/><line x1="403.80" y1="5.70" x2="408.10" y2="5.70"/><line x1="405.10" y1="17.80" x2="408.10" y2="17.80"/><line x1="403.80" y1="29.90" x2="408.10" y2="29.90"/><line x1="405.10" y1="41.75" x2="408.10" y2="41.75"/><line x1="403.80" y1="53.60" x2="408.10" y2="53.60"/><line x1="405.10" y1="65.50" x2="408.10" y2="65.50"/><line x1="403.80" y1="77.40" x2="408.10" y2="77.40"/><line x1="405.10" y1="89.35" x2="408.10" y2="89.35"/><line x1="403.80" y1="101.30" x2="408.10" y2="101.30"/><line x1="405.10" y1="113.35" x2="408.10" y2="113.35"/><line x1="403.80" y1="125.40" x2="408.10" y2="125.40"/><line x1="405.10" y1="137.30" x2="408.10" y2="137.30"/><line x1="403.80" y1="149.20" x2="408.10" y2="149.20"/><line x1="405.10" y1="161.35" x2="408.10" y2="161.35"/><line x1="408.10" y1="173.50" x2="408.10" y2="177.50"/><line x1="434.64" y1="173.50" x2="434.64" y2="176.10"/><line x1="461.18" y1="173.50" x2="461.18" y2="177.50"/><line x1="487.72" y1="173.50" x2="487.72" y2="176.10"/><line x1="514.26" y1="173.50" x2="514.26" y2="177.50"/><line x1="540.80" y1="173.50" x2="540.80" y2="176.10"/><line x1="567.34" y1="173.50" x2="567.34" y2="177.50"/><line x1="593.88" y1="173.50" x2="593.88" y2="176.10"/><line x1="620.42" y1="173.50" x2="620.42" y2="177.50"/><line x1="646.96" y1="173.50" x2="646.96" y2="176.10"/><line x1="673.50" y1="173.50" x2="673.50" y2="177.50"/></g>
<g font-family="Liberation Sans, sans-serif" font-weight="700" fill="#111" stroke="#111" stroke-width="0.35" stroke-linejoin="round" text-rendering="geometricPrecision"><text transform="translate(392.50,9.60) scale(1,0.998)" text-anchor="end" font-size="12.4" textLength="19.68" lengthAdjust="spacingAndGlyphs">300</text><text transform="translate(392.50,33.80) scale(1,0.998)" text-anchor="end" font-size="12.4" textLength="19.68" lengthAdjust="spacingAndGlyphs">250</text><text transform="translate(392.50,57.50) scale(1,0.998)" text-anchor="end" font-size="12.4" textLength="19.68" lengthAdjust="spacingAndGlyphs">200</text><text transform="translate(392.50,81.30) scale(1,0.998)" text-anchor="end" font-size="12.4" textLength="19.68" lengthAdjust="spacingAndGlyphs">150</text><text transform="translate(392.50,105.20) scale(1,0.998)" text-anchor="end" font-size="12.4" textLength="19.68" lengthAdjust="spacingAndGlyphs">100</text><text transform="translate(392.50,129.30) scale(1,0.998)" text-anchor="end" font-size="12.4" textLength="13.12" lengthAdjust="spacingAndGlyphs">50</text><text transform="translate(392.50,153.10) scale(1,0.998)" text-anchor="end" font-size="12.4" textLength="6.56" lengthAdjust="spacingAndGlyphs">0</text><text transform="translate(392.50,177.40) scale(1,0.998)" text-anchor="end" font-size="12.4" textLength="16.72" lengthAdjust="spacingAndGlyphs">-50</text><text transform="translate(406.80,193.90) scale(1,0.998)" text-anchor="middle" font-size="12.4" textLength="26.38" lengthAdjust="spacingAndGlyphs">-0.04</text><text transform="translate(459.88,193.90) scale(1,0.998)" text-anchor="middle" font-size="12.4" textLength="26.38" lengthAdjust="spacingAndGlyphs">-0.02</text><text transform="translate(512.96,193.90) scale(1,0.998)" text-anchor="middle" font-size="12.4" textLength="22.78" lengthAdjust="spacingAndGlyphs">0.00</text><text transform="translate(566.04,193.90) scale(1,0.998)" text-anchor="middle" font-size="12.4" textLength="22.78" lengthAdjust="spacingAndGlyphs">0.02</text><text transform="translate(619.12,193.90) scale(1,0.998)" text-anchor="middle" font-size="12.4" textLength="22.78" lengthAdjust="spacingAndGlyphs">0.04</text><text transform="translate(672.20,193.90) scale(1,0.998)" text-anchor="middle" font-size="12.4" textLength="22.78" lengthAdjust="spacingAndGlyphs">0.06</text><text transform="translate(537.10,211.30) scale(1,0.998)" text-anchor="middle" font-size="14.5" textLength="63.60" lengthAdjust="spacingAndGlyphs">Time (sec)</text><text transform="translate(364.80,86.50) rotate(-90) scale(0.998,1)" text-anchor="middle" font-size="15.0" textLength="71.80" lengthAdjust="spacingAndGlyphs">Force (kN)</text></g>
<rect x="570.60" y="6.50" width="103.40" height="46.70" fill="#fff" fill-opacity="0.996" stroke="#949494" stroke-width="1"/>
<line x1="573.80" y1="12.50" x2="586.90" y2="12.50" stroke="#3b74f0" stroke-width="1.0"/>
<line x1="573.80" y1="24.50" x2="586.90" y2="24.50" stroke="#ee3030" stroke-width="1.0"/>
<line x1="573.80" y1="36.50" x2="586.90" y2="36.50" stroke="#2cb766" stroke-width="1.0" stroke-dasharray="3.0 2.0" stroke-opacity="0.8"/>
<line x1="573.80" y1="48.30" x2="586.90" y2="48.30" stroke="#ffc52e" stroke-width="1.0" stroke-dasharray="3.0 2.0" stroke-opacity="0.8"/>
<g font-family="Liberation Sans, sans-serif" font-weight="700" fill="#111" stroke="#111" stroke-width="0.3" stroke-linejoin="round" text-rendering="geometricPrecision"><text transform="translate(587.70,15.10) scale(1,0.998)" text-anchor="start" font-size="9.7" textLength="80.30" lengthAdjust="spacingAndGlyphs">CASE 02<tspan dy="-1.3" stroke-width="0.6">_</tspan><tspan dy="1.3">Center (#1)</tspan></text><text transform="translate(587.70,27.00) scale(1,0.998)" text-anchor="start" font-size="9.7" textLength="80.30" lengthAdjust="spacingAndGlyphs">CASE 05<tspan dy="-1.3" stroke-width="0.6">_</tspan><tspan dy="1.3">Center (#2)</tspan></text><text transform="translate(587.70,39.00) scale(1,0.998)" text-anchor="start" font-size="9.7" textLength="82.40" lengthAdjust="spacingAndGlyphs">CASE 11<tspan dy="-1.3" stroke-width="0.6">_</tspan><tspan dy="1.3">Anchor (#3)</tspan></text><text transform="translate(587.70,50.90) scale(1,0.998)" text-anchor="start" font-size="9.7" textLength="82.40" lengthAdjust="spacingAndGlyphs">CASE 14<tspan dy="-1.3" stroke-width="0.6">_</tspan><tspan dy="1.3">Anchor (#4)</tspan></text></g>
<!-- (c) -->
<g stroke="#e8e8e8" stroke-width="0.8" stroke-dasharray="1.1 1.35" fill="none"><line x1="279.1" y1="331.35" x2="543.6" y2="331.35"/><line x1="279.1" y1="354.20" x2="543.6" y2="354.20"/><line x1="279.1" y1="376.50" x2="543.6" y2="376.50"/><line x1="279.1" y1="399.40" x2="543.6" y2="399.40"/><line x1="279.1" y1="421.80" x2="543.6" y2="421.80"/><line x1="279.1" y1="444.40" x2="543.6" y2="444.40"/><line x1="279.1" y1="466.90" x2="543.6" y2="466.90"/><line x1="331.20" y1="331.4" x2="331.20" y2="488.9"/><line x1="384.30" y1="331.4" x2="384.30" y2="488.9"/><line x1="437.40" y1="331.4" x2="437.40" y2="488.9"/><line x1="490.50" y1="331.4" x2="490.50" y2="488.9"/><line x1="543.60" y1="331.4" x2="543.60" y2="488.9"/></g>
<path d="M278.5,467.3C279.2,467.4 281.2,467.6 282.5,467.5C283.8,467.4 285.2,467.0 286.5,466.8C287.8,466.7 289.2,466.6 290.5,466.7C291.8,466.7 293.2,467.1 294.5,467.2C295.8,467.3 297.2,467.2 298.5,467.2C299.8,467.2 301.2,467.1 302.5,467.1C303.8,467.2 305.2,467.5 306.5,467.6C307.8,467.6 309.2,467.6 310.5,467.5C311.8,467.3 313.2,466.9 314.5,466.8C315.8,466.8 317.2,466.8 318.5,466.9C319.8,467.0 321.2,467.2 322.5,467.2C323.8,467.2 325.2,467.0 326.5,467.0C327.8,467.0 329.2,467.0 330.5,467.1C331.8,467.2 333.2,467.6 334.5,467.6C335.8,467.6 337.2,467.4 338.5,467.2C339.8,467.1 341.2,466.7 342.5,466.7C343.8,466.6 345.2,466.7 346.5,466.7C347.8,466.7 349.2,466.7 350.5,466.6C351.8,466.6 352.9,466.3 354.5,466.3C356.1,466.4 358.1,466.9 360.0,467.1C361.9,467.3 364.3,467.2 366.2,467.5C368.1,467.8 369.8,468.7 371.4,469.1C372.9,469.5 374.4,470.1 375.5,469.9C376.6,469.7 377.3,469.1 378.1,467.8C378.9,466.5 379.5,464.6 380.2,462.1C380.9,459.6 381.7,455.9 382.3,452.8C382.9,449.7 383.5,446.4 384.0,443.5C384.5,440.6 385.0,438.4 385.4,435.2C385.8,432.0 386.2,428.0 386.6,424.5C387.1,421.0 387.6,417.5 388.1,414.2C388.6,410.9 389.0,407.8 389.5,404.9C390.0,402.0 390.4,399.4 391.0,396.6C391.6,393.8 392.4,390.8 393.1,388.3C393.8,385.8 394.8,383.4 395.4,381.5C396.0,379.6 396.1,378.6 396.9,376.8C397.7,375.0 399.1,372.5 400.0,370.6C400.9,368.7 401.4,367.8 402.1,365.4C402.8,363.0 403.5,359.4 404.2,356.1C404.9,352.8 405.5,348.4 406.2,345.7C406.9,342.9 407.8,340.8 408.3,339.6C408.8,338.4 408.8,338.8 409.1,338.5C409.4,338.2 409.6,338.1 409.9,338.1C410.2,338.1 410.5,338.2 410.8,338.6C411.1,339.0 411.4,339.0 411.9,340.5C412.4,342.0 413.4,345.0 414.0,347.8C414.6,350.6 415.1,354.0 415.6,357.1C416.1,360.2 416.6,363.3 417.1,366.4C417.6,369.5 418.2,372.3 418.7,375.7C419.2,379.1 419.7,383.0 420.2,387.0C420.7,391.0 421.3,395.9 421.8,399.7C422.3,403.5 422.8,406.6 423.3,410.0C423.8,413.4 424.4,417.1 424.9,420.4C425.4,423.7 425.9,427.3 426.4,430.0C426.8,432.7 427.0,433.8 427.6,436.7C428.2,439.6 429.1,443.9 429.9,447.2C430.7,450.5 431.5,453.9 432.3,456.5C433.1,459.1 433.7,461.5 434.6,463.0C435.5,464.5 436.2,465.1 437.5,465.6C438.8,466.1 440.8,465.7 442.2,466.1C443.6,466.5 444.3,467.7 445.7,468.2C447.1,468.7 448.8,469.0 450.4,469.1C451.9,469.2 453.4,468.8 455.0,468.8C456.6,468.9 458.1,469.5 459.7,469.4C461.3,469.3 462.8,468.6 464.4,468.2C466.0,467.8 467.6,467.2 469.1,466.8C470.7,466.4 472.1,466.2 473.7,465.9C475.2,465.6 477.0,465.0 478.4,464.9C479.8,464.8 480.5,465.0 481.9,465.3C483.3,465.6 484.9,466.1 486.6,466.5C488.4,466.9 490.6,467.3 492.4,467.6C494.1,467.9 495.3,468.2 497.1,468.2C498.9,468.2 500.5,467.6 503.0,467.4C505.5,467.2 508.8,467.0 512.0,467.0C515.2,467.0 518.7,467.6 522.0,467.6C525.3,467.6 528.4,467.0 532.0,467.0C535.6,467.0 541.7,467.3 543.6,467.4" fill="none" stroke="#3b74f0" stroke-width="1.05" stroke-linejoin="round"/>
<path d="M278.5,466.5C279.2,466.6 281.2,467.0 282.5,467.2C283.8,467.4 285.2,467.4 286.5,467.4C287.8,467.4 289.2,467.3 290.5,467.3C291.8,467.4 293.2,467.7 294.5,467.7C295.8,467.7 297.2,467.6 298.5,467.5C299.8,467.3 301.2,466.8 302.5,466.7C303.8,466.5 305.2,466.6 306.5,466.6C307.8,466.7 309.2,467.0 310.5,467.0C311.8,467.1 313.2,467.0 314.5,467.1C315.8,467.1 317.2,467.2 318.5,467.3C319.8,467.5 321.2,467.9 322.5,467.9C323.8,468.0 325.2,467.8 326.5,467.6C327.8,467.4 329.2,466.9 330.5,466.8C331.8,466.6 333.2,466.8 334.5,466.8C335.8,466.8 337.2,466.8 338.5,466.7C339.8,466.7 341.2,466.5 342.5,466.5C343.8,466.5 345.2,466.8 346.5,466.9C347.8,467.1 349.2,467.4 350.5,467.4C351.8,467.5 352.9,467.2 354.5,467.1C356.1,467.0 358.1,467.0 360.0,467.1C361.9,467.2 364.3,467.2 366.2,467.5C368.1,467.8 369.8,468.7 371.4,469.1C372.9,469.5 374.4,470.1 375.5,469.9C376.6,469.7 377.3,469.1 378.1,467.8C378.9,466.5 379.5,464.6 380.2,462.1C380.9,459.6 381.7,455.9 382.3,452.8C382.9,449.7 383.5,446.4 384.0,443.5C384.5,440.6 385.0,438.4 385.4,435.2C385.8,432.0 386.2,428.0 386.6,424.5C387.1,421.0 387.6,417.5 388.1,414.2C388.6,410.9 389.2,407.8 389.7,404.9C390.2,402.0 390.6,399.4 391.2,396.6C391.8,393.8 392.6,390.8 393.3,388.3C394.0,385.8 394.8,383.4 395.6,381.5C396.4,379.6 397.1,378.6 398.0,376.8C398.9,375.0 400.3,372.5 401.1,370.6C401.9,368.7 402.3,367.6 402.9,365.4C403.5,363.1 404.1,359.7 404.7,357.1C405.3,354.5 405.9,351.8 406.5,349.9C407.1,348.0 407.9,346.6 408.3,345.9C408.7,345.1 408.7,345.5 408.9,345.4C409.1,345.3 409.4,345.2 409.6,345.2C409.9,345.2 410.1,345.2 410.4,345.6C410.7,346.0 410.9,346.1 411.4,347.3C411.9,348.5 412.7,350.9 413.3,353.0C413.9,355.1 414.4,357.6 415.0,360.2C415.6,362.8 416.1,365.7 416.6,368.5C417.1,371.3 417.6,373.7 418.2,376.8C418.8,379.9 419.3,383.2 419.9,387.0C420.5,390.8 421.2,395.9 421.8,399.7C422.4,403.5 422.8,406.6 423.3,410.0C423.8,413.4 424.4,417.1 424.9,420.4C425.4,423.7 425.9,427.3 426.4,430.0C426.8,432.7 427.0,433.8 427.6,436.7C428.2,439.6 429.1,443.9 429.9,447.2C430.7,450.5 431.5,453.9 432.3,456.5C433.1,459.1 433.7,461.5 434.6,463.0C435.5,464.5 436.2,465.1 437.5,465.6C438.8,466.1 440.8,465.8 442.2,466.1C443.6,466.4 444.5,467.2 445.7,467.3C446.9,467.4 447.9,467.1 449.2,467.0C450.5,466.9 451.9,466.4 453.3,466.5C454.7,466.6 456.0,467.2 457.4,467.3C458.8,467.4 460.2,467.4 461.5,467.3C462.8,467.2 463.7,466.4 465.0,466.5C466.3,466.6 467.7,467.5 469.1,467.6C470.6,467.7 472.1,467.4 473.7,467.3C475.2,467.2 477.0,467.2 478.4,467.0C479.8,466.8 480.5,466.1 481.9,465.9C483.3,465.7 484.9,465.5 486.6,465.6C488.4,465.8 490.2,466.5 492.4,466.8C494.6,467.1 496.7,467.2 500.0,467.3C503.3,467.4 508.3,467.3 512.0,467.2C515.7,467.1 518.7,466.8 522.0,466.8C525.3,466.8 528.4,467.4 532.0,467.4C535.6,467.4 541.7,467.1 543.6,467.0" fill="none" stroke="#ee3030" stroke-width="1.05" stroke-linejoin="round"/>
<path d="M278.5,467.1C279.2,467.1 281.2,467.2 282.5,467.2C283.8,467.2 285.2,467.3 286.5,467.2C287.8,467.1 289.2,466.8 290.5,466.7C291.8,466.6 293.2,466.7 294.5,466.8C295.8,466.9 297.2,467.3 298.5,467.4C299.8,467.5 301.2,467.4 302.5,467.4C303.8,467.4 305.2,467.2 306.5,467.2C307.8,467.2 309.2,467.4 310.5,467.4C311.8,467.4 313.2,467.4 314.5,467.3C315.8,467.1 317.2,466.7 318.5,466.7C319.8,466.6 321.2,466.8 322.5,466.9C323.8,467.1 325.2,467.4 326.5,467.4C327.8,467.4 329.2,467.2 330.5,467.1C331.8,467.1 333.2,467.1 334.5,467.2C335.8,467.2 337.2,467.5 338.5,467.5C339.8,467.4 341.2,467.1 342.5,466.9C343.8,466.8 345.2,466.4 346.5,466.3C347.8,466.3 349.2,466.5 350.5,466.6C351.8,466.6 352.9,466.7 354.5,466.8C356.1,466.9 358.1,467.0 360.0,467.1C361.9,467.2 364.3,467.2 366.2,467.5C368.1,467.8 369.8,468.7 371.4,469.1C372.9,469.5 374.4,470.1 375.5,469.9C376.6,469.7 377.3,469.1 378.1,467.8C378.9,466.5 379.5,464.6 380.2,462.1C380.9,459.6 381.7,455.9 382.3,452.8C382.9,449.7 383.5,446.4 384.0,443.5C384.5,440.6 385.0,438.4 385.4,435.2C385.8,432.0 386.2,428.0 386.6,424.5C387.1,421.0 387.6,417.5 388.1,414.2C388.6,410.9 389.2,406.7 389.7,404.9C390.2,403.1 390.3,403.9 390.9,403.6C391.5,403.3 392.5,402.7 393.3,403.3C394.1,403.9 394.9,406.0 395.9,407.4C396.8,408.8 398.1,410.7 399.0,411.6C399.9,412.6 400.7,413.3 401.6,413.1C402.6,412.9 403.7,411.9 404.7,410.5C405.7,409.1 406.7,406.7 407.8,404.9C408.9,403.1 410.3,400.1 411.4,399.7C412.5,399.3 413.5,401.0 414.5,402.3C415.5,403.6 416.6,406.1 417.6,407.4C418.6,408.7 419.7,409.1 420.7,410.0C421.7,410.9 422.8,411.4 423.8,412.6C424.9,413.8 425.9,415.7 427.0,417.3C428.1,418.9 429.2,420.8 430.1,422.5C431.1,424.2 431.9,425.8 432.7,427.6C433.5,429.4 434.3,430.7 435.2,433.2C436.1,435.7 437.0,439.9 438.1,442.5C439.2,445.1 440.3,447.0 441.6,448.9C442.9,450.8 444.3,451.8 445.7,453.6C447.1,455.4 448.4,458.3 449.8,459.5C451.2,460.7 452.5,460.8 453.9,461.0C455.3,461.2 456.6,460.3 458.0,460.6C459.4,460.9 460.6,462.7 462.0,463.0C463.4,463.3 465.3,462.2 466.7,462.4C468.1,462.6 469.0,463.6 470.2,464.1C471.4,464.6 472.3,465.4 473.7,465.6C475.1,465.8 476.8,465.2 478.4,465.3C480.0,465.4 481.6,465.9 483.1,466.1C484.7,466.4 485.8,466.6 487.7,466.8C489.6,467.0 491.8,467.2 494.7,467.3C497.6,467.4 501.1,467.4 505.0,467.4C508.9,467.3 513.8,467.0 518.0,467.0C522.2,467.0 525.7,467.4 530.0,467.4C534.3,467.4 541.3,467.2 543.6,467.2" fill="none" stroke="#2cb766" stroke-width="1.1" stroke-dasharray="2.6 2.2" stroke-linejoin="round"/>
<path d="M278.5,466.9C279.2,466.8 281.2,466.5 282.5,466.5C283.8,466.5 285.2,466.8 286.5,466.9C287.8,467.1 289.2,467.6 290.5,467.7C291.8,467.8 293.2,467.7 294.5,467.6C295.8,467.5 297.2,467.3 298.5,467.3C299.8,467.3 301.2,467.4 302.5,467.4C303.8,467.3 305.2,467.1 306.5,466.9C307.8,466.7 309.2,466.4 310.5,466.4C311.8,466.4 313.2,466.8 314.5,466.9C315.8,467.1 317.2,467.4 318.5,467.5C319.8,467.6 321.2,467.4 322.5,467.4C323.8,467.5 325.2,467.6 326.5,467.6C327.8,467.6 329.2,467.7 330.5,467.6C331.8,467.5 333.2,467.0 334.5,466.8C335.8,466.6 337.2,466.3 338.5,466.3C339.8,466.2 341.2,466.6 342.5,466.7C343.8,466.8 345.2,466.8 346.5,466.8C347.8,466.8 349.2,466.7 350.5,466.7C351.8,466.8 352.9,467.3 354.5,467.3C356.1,467.4 358.1,467.1 360.0,467.1C361.9,467.1 364.3,467.2 366.2,467.5C368.1,467.8 369.8,468.7 371.4,469.1C372.9,469.5 374.4,470.1 375.5,469.9C376.6,469.7 377.3,469.1 378.1,467.8C378.9,466.5 379.5,464.6 380.2,462.1C380.9,459.6 381.7,455.9 382.3,452.8C382.9,449.7 383.5,446.4 384.0,443.5C384.5,440.6 385.0,438.4 385.4,435.2C385.8,432.0 386.2,428.0 386.6,424.5C387.1,421.0 387.6,417.4 388.1,414.2C388.6,411.0 389.2,406.9 389.7,405.4C390.2,403.9 390.5,404.7 391.2,405.0C391.9,405.3 392.9,406.5 393.8,407.4C394.8,408.3 395.8,409.8 396.9,410.5C398.0,411.2 399.3,411.8 400.5,411.9C401.7,412.0 403.0,411.5 404.2,411.1C405.4,410.7 406.7,409.7 407.8,409.5C408.9,409.3 409.9,409.4 410.9,410.0C411.8,410.6 412.6,412.1 413.5,413.1C414.4,414.1 415.6,415.7 416.6,416.0C417.6,416.3 418.7,415.2 419.7,414.7C420.7,414.2 421.8,412.9 422.8,413.1C423.8,413.3 424.9,414.7 425.9,415.7C426.9,416.7 428.0,418.3 429.0,419.3C430.0,420.3 431.2,420.8 432.1,421.9C433.1,422.9 433.8,423.8 434.7,425.6C435.6,427.4 436.4,430.2 437.5,432.6C438.6,435.0 439.8,437.8 441.0,440.2C442.2,442.6 443.4,445.0 444.5,447.2C445.6,449.4 446.4,451.6 447.4,453.6C448.4,455.7 449.3,458.2 450.4,459.5C451.5,460.8 452.6,461.0 453.9,461.2C455.2,461.4 456.6,460.3 458.0,460.6C459.4,460.9 460.6,462.8 462.0,463.0C463.4,463.2 465.3,462.0 466.7,462.1C468.1,462.2 469.0,463.0 470.2,463.5C471.4,464.0 472.5,465.4 473.7,465.3C474.9,465.2 476.0,463.4 477.2,463.0C478.4,462.6 479.6,462.2 480.7,462.6C481.8,463.0 482.3,464.7 483.7,465.3C485.1,465.9 487.1,465.8 488.9,466.1C490.7,466.4 492.0,466.8 494.7,467.0C497.4,467.2 501.1,467.1 505.0,467.2C508.9,467.3 513.8,467.4 518.0,467.4C522.2,467.4 525.7,467.0 530.0,467.0C534.3,467.0 541.3,467.2 543.6,467.3" fill="none" stroke="#ffc52e" stroke-width="1.1" stroke-dasharray="2.6 2.2" stroke-linejoin="round"/>
<g stroke="#222" stroke-width="1.3" fill="none"><line x1="278.10" y1="330.85" x2="278.10" y2="490.35"/><line x1="273.80" y1="489.85" x2="544.10" y2="489.85"/><line x1="273.80" y1="331.35" x2="278.10" y2="331.35"/><line x1="275.10" y1="342.77" x2="278.10" y2="342.77"/><line x1="273.80" y1="354.20" x2="278.10" y2="354.20"/><line x1="275.10" y1="365.35" x2="278.10" y2="365.35"/><line x1="273.80" y1="376.50" x2="278.10" y2="376.50"/><line x1="275.10" y1="387.95" x2="278.10" y2="387.95"/><line x1="273.80" y1="399.40" x2="278.10" y2="399.40"/><line x1="275.10" y1="410.60" x2="278.10" y2="410.60"/><line x1="273.80" y1="421.80" x2="278.10" y2="421.80"/><line x1="275.10" y1="433.10" x2="278.10" y2="433.10"/><line x1="273.80" y1="444.40" x2="278.10" y2="444.40"/><line x1="275.10" y1="455.65" x2="278.10" y2="455.65"/><line x1="273.80" y1="466.90" x2="278.10" y2="466.90"/><line x1="275.10" y1="478.38" x2="278.10" y2="478.38"/><line x1="278.10" y1="489.85" x2="278.10" y2="493.64"/><line x1="304.65" y1="489.85" x2="304.65" y2="492.31"/><line x1="331.20" y1="489.85" x2="331.20" y2="493.64"/><line x1="357.75" y1="489.85" x2="357.75" y2="492.31"/><line x1="384.30" y1="489.85" x2="384.30" y2="493.64"/><line x1="410.85" y1="489.85" x2="410.85" y2="492.31"/><line x1="437.40" y1="489.85" x2="437.40" y2="493.64"/><line x1="463.95" y1="489.85" x2="463.95" y2="492.31"/><line x1="490.50" y1="489.85" x2="490.50" y2="493.64"/><line x1="517.05" y1="489.85" x2="517.05" y2="492.31"/><line x1="543.60" y1="489.85" x2="543.60" y2="493.64"/></g>
<g font-family="Liberation Sans, sans-serif" font-weight="700" fill="#111" stroke="#111" stroke-width="0.35" stroke-linejoin="round" text-rendering="geometricPrecision"><text transform="translate(262.50,335.05) scale(1,0.948)" text-anchor="end" font-size="12.4" textLength="19.68" lengthAdjust="spacingAndGlyphs">300</text><text transform="translate(262.50,357.90) scale(1,0.948)" text-anchor="end" font-size="12.4" textLength="19.68" lengthAdjust="spacingAndGlyphs">250</text><text transform="translate(262.50,380.20) scale(1,0.948)" text-anchor="end" font-size="12.4" textLength="19.68" lengthAdjust="spacingAndGlyphs">200</text><text transform="translate(262.50,403.10) scale(1,0.948)" text-anchor="end" font-size="12.4" textLength="19.68" lengthAdjust="spacingAndGlyphs">150</text><text transform="translate(262.50,425.50) scale(1,0.948)" text-anchor="end" font-size="12.4" textLength="19.68" lengthAdjust="spacingAndGlyphs">100</text><text transform="translate(262.50,448.10) scale(1,0.948)" text-anchor="end" font-size="12.4" textLength="13.12" lengthAdjust="spacingAndGlyphs">50</text><text transform="translate(262.50,470.60) scale(1,0.948)" text-anchor="end" font-size="12.4" textLength="6.56" lengthAdjust="spacingAndGlyphs">0</text><text transform="translate(262.50,493.55) scale(1,0.948)" text-anchor="end" font-size="12.4" textLength="16.72" lengthAdjust="spacingAndGlyphs">-50</text><text transform="translate(276.80,509.19) scale(1,0.948)" text-anchor="middle" font-size="12.4" textLength="26.38" lengthAdjust="spacingAndGlyphs">-0.04</text><text transform="translate(329.90,509.19) scale(1,0.948)" text-anchor="middle" font-size="12.4" textLength="26.38" lengthAdjust="spacingAndGlyphs">-0.02</text><text transform="translate(383.00,509.19) scale(1,0.948)" text-anchor="middle" font-size="12.4" textLength="22.78" lengthAdjust="spacingAndGlyphs">0.00</text><text transform="translate(436.10,509.19) scale(1,0.948)" text-anchor="middle" font-size="12.4" textLength="22.78" lengthAdjust="spacingAndGlyphs">0.02</text><text transform="translate(489.20,509.19) scale(1,0.948)" text-anchor="middle" font-size="12.4" textLength="22.78" lengthAdjust="spacingAndGlyphs">0.04</text><text transform="translate(542.30,509.19) scale(1,0.948)" text-anchor="middle" font-size="12.4" textLength="22.78" lengthAdjust="spacingAndGlyphs">0.06</text><text transform="translate(407.10,524.88) scale(1,0.948)" text-anchor="middle" font-size="14.5" textLength="63.60" lengthAdjust="spacingAndGlyphs">Time (sec)</text><text transform="translate(234.80,407.66) rotate(-90) scale(0.998,1)" text-anchor="middle" font-size="15.0" textLength="68.07" lengthAdjust="spacingAndGlyphs">Force (kN)</text></g>
<rect x="440.00" y="331.80" width="104.00" height="44.50" fill="#fff" fill-opacity="0.996" stroke="#949494" stroke-width="1"/>
<line x1="443.40" y1="337.50" x2="456.00" y2="337.50" stroke="#3b74f0" stroke-width="1.0"/>
<line x1="443.40" y1="348.50" x2="456.00" y2="348.50" stroke="#ee3030" stroke-width="1.0"/>
<line x1="443.40" y1="359.50" x2="456.00" y2="359.50" stroke="#2cb766" stroke-width="1.0" stroke-dasharray="3.0 2.0" stroke-opacity="0.8"/>
<line x1="443.40" y1="370.50" x2="456.00" y2="370.50" stroke="#ffc52e" stroke-width="1.0" stroke-dasharray="3.0 2.0" stroke-opacity="0.8"/>
<g font-family="Liberation Sans, sans-serif" font-weight="700" fill="#111" stroke="#111" stroke-width="0.3" stroke-linejoin="round" text-rendering="geometricPrecision"><text transform="translate(457.30,340.10) scale(1,0.930)" text-anchor="start" font-size="9.7" textLength="80.30" lengthAdjust="spacingAndGlyphs">CASE 03<tspan dy="-1.3" stroke-width="0.6">_</tspan><tspan dy="1.3">Center (#1)</tspan></text><text transform="translate(457.30,351.00) scale(1,0.930)" text-anchor="start" font-size="9.7" textLength="80.30" lengthAdjust="spacingAndGlyphs">CASE 06<tspan dy="-1.3" stroke-width="0.6">_</tspan><tspan dy="1.3">Center (#2)</tspan></text><text transform="translate(457.30,362.10) scale(1,0.930)" text-anchor="start" font-size="9.7" textLength="82.40" lengthAdjust="spacingAndGlyphs">CASE 12<tspan dy="-1.3" stroke-width="0.6">_</tspan><tspan dy="1.3">Anchor (#3)</tspan></text><text transform="translate(457.30,373.00) scale(1,0.930)" text-anchor="start" font-size="9.7" textLength="82.40" lengthAdjust="spacingAndGlyphs">CASE 15<tspan dy="-1.3" stroke-width="0.6">_</tspan><tspan dy="1.3">Anchor (#4)</tspan></text></g>
</svg>
<div class="cap" id="ca" style="left:84.2px;top:243.5px;">(a) 1st impact (3.5 kJ).</div>
<div class="cap" id="cb" style="left:359.8px;top:243.5px;">(b) 2nd impact (7.0 kJ; cumulative energy).</div>
<div class="cap" id="cc" style="left:227.4px;top:557.5px;">(c) 3rd impact (10.5 kJ; cumulative energy).</div>
</body></html>
